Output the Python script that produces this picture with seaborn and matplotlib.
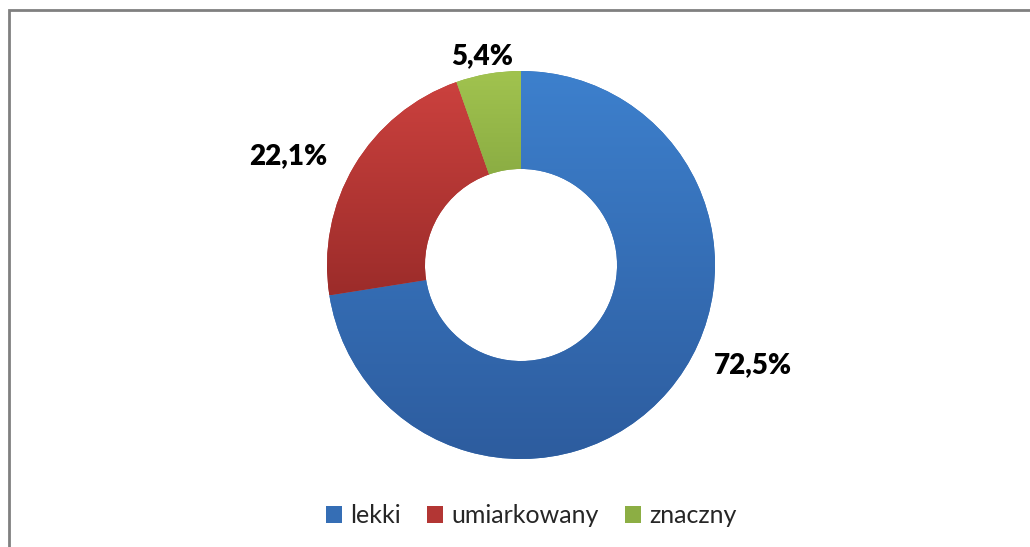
import numpy as np
import matplotlib
matplotlib.use("Agg")
import matplotlib.pyplot as plt
import matplotlib.patches as mpatches
import seaborn as sns

# data
categories = ['lekki', 'umiarkowany', 'znaczny']
shares = [72.5, 22.1, 5.4]

# top / bottom colours of each wedge's gradient
top_colors = ['#3D80CD', '#CB413E', '#A1C34F']
bottom_colors = ['#2D5C9E', '#9C2C2A', '#789A39']

# label placement: (angle in degrees, distance as fraction of radius)
label_pos = [(-23.4, 1.30), (155.0, 1.325), (100.6, 1.093)]

sns.set_theme(style="white")
plt.rcParams['font.family'] = ['Lato', 'DejaVu Sans']

W, H = 1030, 547
fig = plt.figure(figsize=(W / 100, H / 100), dpi=100)
ax = fig.add_axes([0, 0, 1, 1])

cx, cy, r = 521, H - 265, 194
mid_colors = [sns.blend_palette([t, b], 3)[1] for t, b in zip(top_colors, bottom_colors)]

wedges, _ = ax.pie(shares, colors=mid_colors, startangle=90, counterclock=False,
                   center=(cx, cy), radius=r, frame=True,
                   wedgeprops=dict(width=r * 0.505, linewidth=0))
ax.set_xlim(0, W)
ax.set_ylim(0, H)
ax.set_aspect('equal')
ax.axis('off')

# vertical gradient inside every wedge
for w, t, b in zip(wedges, top_colors, bottom_colors):
    ys = w.get_path().vertices[:, 1]
    xs = w.get_path().vertices[:, 0]
    cmap = sns.blend_palette([b, t], as_cmap=True)
    grad = np.linspace(0, 1, 256).reshape(-1, 1)
    im = ax.imshow(grad, cmap=cmap, origin='lower', aspect='auto',
                   extent=[xs.min(), xs.max(), ys.min(), ys.max()], zorder=2)
    im.set_clip_path(w)

for (ang, dist), v in zip(label_pos, shares):
    a = np.deg2rad(ang)
    ax.text(cx + dist * r * np.cos(a), cy + dist * r * np.sin(a),
            f"{v:.1f}%".replace('.', ','), ha='center', va='center',
            fontsize=20, fontweight='heavy', color='black', zorder=3)

# outer frame
ax.add_patch(mpatches.Rectangle((8.5, -20), W + 20, H - 9.5 + 20, fill=False,
                                edgecolor='#808080', linewidth=2, clip_on=False))

handles = [mpatches.Patch(facecolor=c, edgecolor='none') for c in mid_colors]
fig.legend(handles, categories, loc='center', bbox_to_anchor=(0.516, 0.057),
           ncol=3, frameon=False, fontsize=18, handlelength=0.62, handleheight=0.62,
           handletextpad=0.35, columnspacing=1.05)

fig.savefig('out.png', dpi=100)
